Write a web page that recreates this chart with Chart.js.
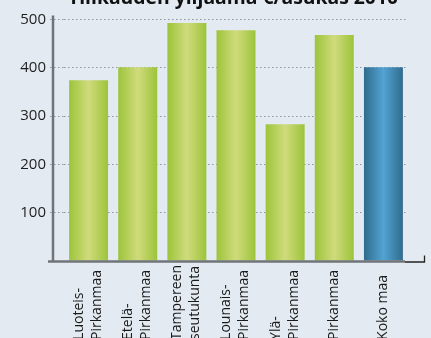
<!DOCTYPE html>
<html>
<head>
<meta charset="utf-8">
<script src="https://cdn.jsdelivr.net/npm/chart.js@4"></script>
<style>
  html, body { margin: 0; padding: 0; background: #e3eaf1; overflow: hidden; }
  canvas { display: block; }
</style>
</head>
<body>
<canvas id="myChart" width="431" height="338"></canvas>
<script>
// data
const titleText = "Tilikauden ylijäämä €/asukas 2010"
const categories = [
  ["Luoteis-", "Pirkanmaa"],
  ["Etelä-", "Pirkanmaa"],
  ["Tampereen", "seutukunta"],
  ["Lounais-", "Pirkanmaa"],
  ["Ylä-", "Pirkanmaa"],
  ["Pirkanmaa"],
  ["Koko maa"]
]
const values = [374, 401, 493, 478, 283, 468, 401]
const yTicks = [100, 200, 300, 400, 500]
const highlight = "Koko maa"

const fontName = '"Open Sans", "Noto Sans", sans-serif'

// bar shading, green for regions and blue for the whole country
function barGradient(ctx, el, isBlue) {
  const g = ctx.createLinearGradient(el.x - el.width / 2, 0, el.x + el.width / 2, 0)
  if (isBlue) {
    g.addColorStop(0, "#316b8d")
    g.addColorStop(0.5, "#52a4d3")
    g.addColorStop(1, "#316b8d")
  } else {
    g.addColorStop(0, "#9cc43a")
    g.addColorStop(0.5, "#d0db7c")
    g.addColorStop(1, "#9cc43a")
  }
  return g
}

const decor = {
  id: "decor",
  beforeDatasetsDraw(chart) {
    const ctx = chart.ctx
    const meta = chart.getDatasetMeta(0)
    meta.data.forEach(function (el, i) {
      el.options.backgroundColor = barGradient(ctx, el, categories[i].join(" ") == highlight)
    })
  },
  afterDatasetsDraw(chart) {
    const ctx = chart.ctx
    const y = chart.scales.y
    const x = chart.scales.x
    const base = y.getPixelForValue(0)
    ctx.save()
    // y axis line
    ctx.strokeStyle = "#707479"
    ctx.lineWidth = 2.5
    ctx.beginPath()
    ctx.moveTo(53, y.getPixelForValue(500) - 4)
    ctx.lineTo(53, base)
    ctx.stroke()
    // x axis line
    ctx.beginPath()
    ctx.moveTo(48, base + 0.5)
    ctx.lineTo(x.right - 3, base + 0.5)
    ctx.stroke()
    // small black hook at the end
    ctx.strokeStyle = "#222"
    ctx.lineWidth = 1.3
    ctx.beginPath()
    ctx.moveTo(x.right - 3, base + 1)
    ctx.lineTo(424.5, base + 1)
    ctx.lineTo(424.5, base - 5.5)
    ctx.stroke()
    ctx.restore()
  },
  afterDraw(chart) {
    const ctx = chart.ctx
    const x = chart.scales.x
    ctx.save()
    // title, cut at the top like in the picture
    ctx.fillStyle = "#111"
    ctx.font = "bold 20px " + fontName
    ctx.textAlign = "center"
    ctx.textBaseline = "alphabetic"
    ctx.fillText(titleText, 233, 4, 330)
    // rotated category labels, all lines start at the same point
    ctx.font = "14px " + fontName
    ctx.fillStyle = "#1a1a1a"
    const startY = 270 + ctx.measureText("Pirkanmaa").width
    categories.forEach(function (lines, i) {
      const cx = x.getPixelForValue(i)
      ctx.save()
      ctx.translate(cx, startY)
      ctx.rotate(-Math.PI / 2)
      ctx.textAlign = "left"
      ctx.textBaseline = "middle"
      lines.forEach(function (line, k) {
        const off = lines.length == 1 ? 0 : (k == 0 ? -9.5 : 8.5)
        ctx.fillText(line, 0, off)
      })
      ctx.restore()
    })
    ctx.restore()
  }
}

const ctx = document.getElementById("myChart").getContext("2d")
const myChart = new Chart(ctx, {
  type: "bar",
  data: {
    labels: categories,
    datasets: [{
      data: values,
      // scriptable so every bar keeps its own options object
      backgroundColor: function (c) { return c.dataIndex == 6 ? "#316b8d" : "#9cc43a" },
      borderWidth: 0,
      barPercentage: 0.793,
      categoryPercentage: 1
    }]
  },
  options: {
    responsive: false,
    animation: false,
    layout: { padding: { top: 19.5, bottom: 77, left: 0, right: 23 } },
    plugins: { legend: { display: false }, tooltip: { enabled: false }, title: { display: false } },
    scales: {
      x: { display: false },
      y: {
        min: 0,
        max: 500,
        afterBuildTicks: function (scale) {
          scale.ticks = [0].concat(yTicks).map(function (v) { return { value: v } })
        },
        afterFit: function (scale) { scale.width = 64 },
        border: { display: false, dash: [1.5, 2.5] },
        grid: {
          color: function (c) { return c.tick && c.tick.value === 0 ? "rgba(0,0,0,0)" : "#8f959b" },
          lineWidth: 1,
          drawTicks: true,
          tickLength: 14,
          tickBorderDash: [1.5, 2.5]
        },
        ticks: {
          padding: 4,
          color: "#1e1e1e",
          font: { family: fontName, size: 15 },
          callback: function (v) { return v === 0 ? "" : v }
        }
      }
    }
  },
  plugins: [decor]
})
</script>
</body>
</html>
